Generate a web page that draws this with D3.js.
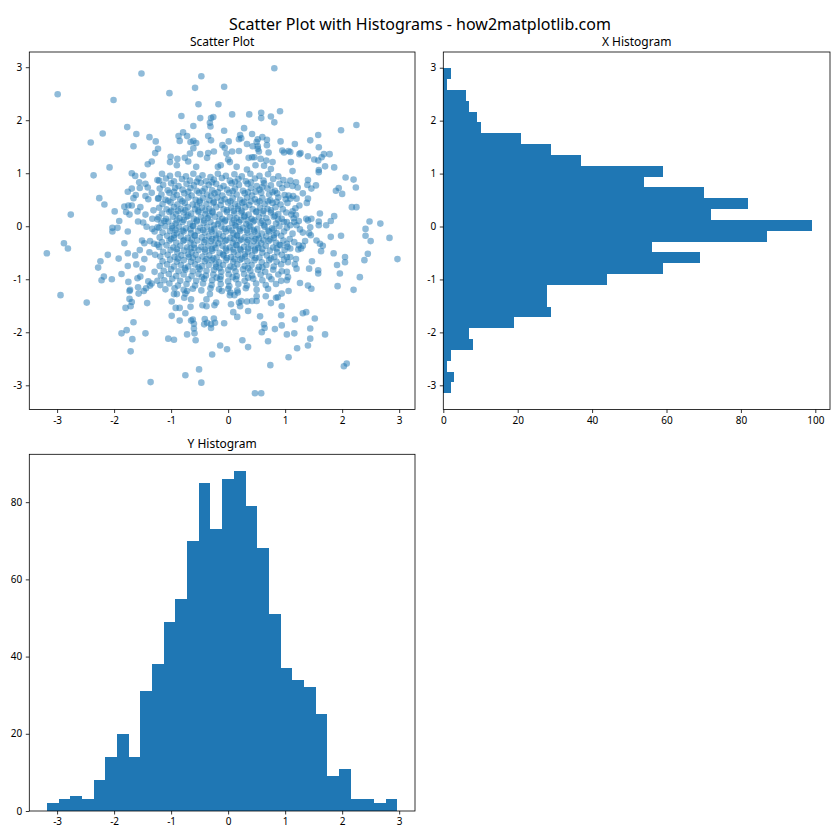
<!DOCTYPE html>
<html lang="en">
<head>
<meta charset="UTF-8">
<title>Scatter Plot with Histograms</title>
<script src="https://d3js.org/d3.v7.min.js"></script>
<style>
  body { margin: 0; background: #fff; }
  text { font-family: "Noto Sans", "DejaVu Sans", sans-serif; fill: #000; }
</style>
</head>
<body>
<script>
// scatter points [x, y]
var scatterPoints = [
  // upper left
  [-2.99,2.49],[-1.52,2.88],[-2.01,2.38],[-1.77,1.87],[-2.20,1.75],[-2.41,1.58],[-1.61,1.74],[-1.38,1.68],
  [-1.27,1.60],[-1.66,1.51],[-1.23,1.46],[-1.28,1.38],[-1.34,1.22],[-1.41,1.17],[-2.08,1.11],
  // upper middle
  [0.81,2.98],[-0.47,2.83],[-0.58,2.61],[-0.07,2.63],[-1.03,2.51],[-0.52,2.30],[-0.17,2.30],[0.91,2.17],
  [-0.82,2.08],[-0.49,2.04],[-0.30,2.04],[-0.26,2.06],[0.07,2.11],[0.37,2.11],[0.58,2.14],[0.58,2.04],
  [0.75,2.07],[0.81,1.96],[-0.32,1.95],[-0.61,1.89],[-0.31,1.88],[-0.07,1.80],[0.28,1.85],[-0.79,1.77],
  [-0.87,1.70],[-0.72,1.70],[-0.35,1.70],[0.21,1.72],[0.23,1.66],[0.42,1.74],[0.60,1.68],[-0.85,1.61],
  [-0.66,1.59],[-0.61,1.61],[-0.56,1.57],[-0.30,1.62],[0.01,1.60],[0.19,1.64],[0.33,1.55],[0.52,1.64],
  [0.50,1.59],[0.43,1.51],[0.52,1.51],[0.68,1.63],[0.68,1.53],[0.92,1.60],[-0.10,1.53],[-0.06,1.48],
  [-0.61,1.47],[-1.01,1.31],[-1.02,1.21],[-0.89,1.27],[-0.76,1.29],[-0.70,1.22],[-0.67,1.37],[-0.49,1.36],
  [-0.35,1.38],[-0.37,1.29],[-0.25,1.41],[-0.03,1.37],[0.00,1.26],[0.03,1.21],[0.07,1.41],[0.19,1.42],
  [0.36,1.29],[0.42,1.30],[0.46,1.30],[0.54,1.41],[0.52,1.46],[0.71,1.39],[0.57,1.27],[0.67,1.24],
  [0.78,1.21],[0.95,1.43],[0.98,1.39],[-0.90,1.15],[-0.56,1.12],[-0.18,1.12],[-0.13,1.15],[0.15,1.12],
  [0.33,1.07],[0.48,1.15],[0.63,1.14],[0.75,1.08],
  // upper right
  [2.25,1.91],[1.98,1.81],[1.58,1.72],[1.44,1.62],[1.17,1.55],[1.06,1.42],[1.09,1.40],[1.59,1.49],
  [1.25,1.36],[1.27,1.38],[1.40,1.32],[1.51,1.26],[1.58,1.24],[1.64,1.30],[1.68,1.36],[1.78,1.36],
  [1.10,1.21],[1.70,1.13],[1.86,1.11],[1.59,1.06],[1.13,1.04],
  // middle left
  [-2.36,0.96],[-1.69,1.00],[-1.63,0.95],[-1.49,0.96],[-1.56,0.83],[-1.45,0.80],[-1.41,0.73],[-1.24,0.87],
  [-1.76,0.65],[-1.69,0.71],[-1.55,0.72],[-1.62,0.59],[-1.66,0.53],[-1.45,0.57],[-1.40,0.51],[-1.34,0.63],
  [-1.23,0.52],[-2.26,0.53],[-2.17,0.41],[-1.82,0.37],[-1.75,0.39],[-1.69,0.39],[-1.54,0.36],[-1.79,0.27],
  [-1.73,0.22],[-1.59,0.28],[-1.45,0.22],[-1.31,0.30],[-2.76,0.22],[-1.99,0.28],[-1.91,0.10],[-1.58,0.09],
  [-1.49,0.07],[-1.33,0.14],[-1.24,0.13],[-2.03,-0.03],[-1.94,-0.03],[-2.03,-0.10],[-1.76,-0.10],[-1.43,-0.01],
  [-1.33,-0.05],[-1.29,-0.10],[-1.24,-0.02],[-1.51,-0.27],[-1.47,-0.32],[-1.37,-0.28],[-1.30,-0.33],[-1.24,-0.35],
  [-1.82,-0.32],[-2.88,-0.32],[-2.81,-0.42],[-3.18,-0.51],[-1.55,-0.45],[-1.76,-0.51],[-1.63,-0.55],[-1.38,-0.49],
  [-1.28,-0.54],[-2.11,-0.54],[-2.24,-0.66],[-1.92,-0.61],[-1.61,-0.72],[-1.47,-0.62],[-1.76,-0.75],[-2.28,-0.78],
  [-1.50,-0.80],[-1.29,-0.86],[-1.87,-0.90],[-2.18,-0.95],[-2.22,-1.02],[-2.04,-1.00],[-1.54,-0.95],[-1.59,-0.98],
  [-1.75,-1.05],[-1.40,-1.04],[-1.34,-1.08],[-1.24,-1.03],[-1.72,-1.20],[-1.58,-1.15],[-1.44,-1.17],[-1.37,-1.12],
  // middle right
  [2.06,0.92],[2.20,0.88],[2.24,0.73],[1.59,1.02],[1.40,0.87],[1.39,0.78],[1.46,0.71],[1.54,0.77],
  [1.89,0.67],[1.94,0.72],[2.00,0.61],[1.09,0.86],[1.13,0.76],[1.19,0.83],[1.22,0.73],[1.31,0.62],
  [1.14,0.57],[1.09,0.52],[1.06,0.58],[1.20,0.52],[1.25,0.39],[1.40,0.52],[1.38,0.44],[2.17,0.36],
  [2.25,0.36],[1.61,0.24],[1.86,0.19],[1.80,0.10],[2.48,0.09],[2.67,0.05],[1.13,0.28],[1.18,0.34],
  [1.11,0.22],[1.19,0.21],[1.15,0.15],[1.24,0.10],[1.16,0.08],[1.09,0.02],[1.03,0.08],[1.20,0.02],
  [1.26,-0.06],[1.31,-0.12],[1.13,-0.14],[1.08,-0.24],[1.16,-0.30],[1.24,-0.36],[1.09,-0.42],[1.03,-0.33],
  [1.37,0.14],[1.40,0.11],[1.46,0.14],[1.59,0.09],[1.59,0.02],[1.72,0.02],[1.44,-0.02],[1.42,-0.13],
  [1.45,-0.17],[1.35,-0.28],[1.31,-0.37],[1.23,-0.44],[1.28,-0.42],[1.55,-0.27],[1.61,-0.33],[1.66,-0.37],
  [1.63,-0.47],[1.80,-0.20],[1.98,-0.18],[2.41,-0.05],[2.41,-0.18],[2.50,-0.28],[2.83,-0.22],[1.85,-0.51],
  [2.45,-0.52],[2.05,-0.58],[2.05,-0.68],[2.39,-0.64],[2.97,-0.62],[1.91,-0.73],[1.47,-0.66],[1.03,-0.58],
  [1.05,-0.68],[1.09,-0.58],[1.19,-0.62],[1.20,-0.80],[1.17,-0.72],[1.03,-0.86],[1.05,-0.96],[1.03,-1.02],
  [1.42,-0.80],[1.58,-0.83],[1.58,-0.89],[1.96,-0.89],[2.31,-0.96],[1.26,-1.07],[1.40,-1.12],[1.46,-1.18],
  [1.92,-1.13],[2.20,-1.20],
  // lower right
  [1.06,-1.22],[1.31,-1.64],[1.37,-1.62],[1.17,-1.76],[1.52,-1.74],[1.44,-1.93],[1.03,-2.04],[1.16,-2.02],
  [1.70,-2.04],[1.44,-2.12],[1.40,-2.25],[1.21,-2.30],[1.06,-2.47],[2.03,-2.64],[2.08,-2.59],
  // lower middle
  [-0.95,-1.28],[-0.90,-1.28],[-0.75,-1.27],[-0.72,-1.22],[-0.99,-1.42],[-0.77,-1.35],[-0.65,-1.38],[-0.92,-1.54],
  [-0.85,-1.54],[-0.66,-1.52],[-0.99,-1.69],[-0.75,-1.64],[-0.85,-1.78],[-0.32,-1.28],[-0.38,-1.38],[-0.45,-1.49],
  [-0.38,-1.51],[-0.21,-1.44],[-0.24,-1.49],[-0.11,-1.22],[0.04,-1.25],[0.17,-1.25],[0.11,-1.30],[0.03,-1.30],
  [0.05,-1.47],[0.19,-1.44],[0.21,-1.51],[0.23,-1.41],[0.33,-1.42],[0.42,-1.41],[0.50,-1.41],[0.50,-1.32],
  [0.66,-1.32],[0.75,-1.45],[0.84,-1.35],[0.87,-1.34],[0.94,-1.27],[0.94,-1.51],[0.09,-1.62],[0.35,-1.60],
  [0.16,-1.71],[-0.62,-1.76],[-0.60,-1.84],[-0.65,-1.78],[-0.41,-1.75],[-0.42,-1.85],[-0.37,-1.82],[-0.30,-1.85],
  [-0.30,-1.92],[-0.25,-1.74],[-0.23,-1.82],[-0.07,-1.83],[0.56,-1.70],[0.63,-1.85],[0.64,-1.92],[0.59,-2.00],
  [0.82,-1.94],[0.93,-1.68],[0.94,-1.87],[-0.60,-1.93],[-0.72,-2.04],[-0.59,-2.02],[-0.57,-2.15],[-1.05,-2.12],
  [-0.95,-2.14],[0.25,-2.15],[0.70,-2.17],[-0.14,-2.25],[-0.02,-2.32],[0.35,-2.28],[-0.28,-2.42],[0.74,-2.62],
  [-0.51,-2.70],[-0.75,-2.81],[-0.47,-2.95],[0.47,-3.15],[0.58,-3.15],
  // lower left
  [-2.94,-1.30],[-2.48,-1.44],[-1.73,-1.22],[-1.57,-1.27],[-1.48,-1.22],[-1.73,-1.37],[-1.69,-1.43],[-1.71,-1.51],
  [-1.80,-1.54],[-1.42,-1.45],[-1.66,-1.81],[-1.78,-1.96],[-1.87,-2.02],[-1.45,-2.02],[-1.68,-2.13],[-1.71,-2.36],
  [-1.36,-2.94],
  // dense centre
  [-1.16,0.99],[-1.02,0.95],[-0.88,0.98],[-0.74,0.94],[-0.61,0.99],[-0.45,0.96],[-0.31,0.93],[-0.18,0.99],
  [-0.04,0.95],[0.11,0.98],[0.24,0.94],[0.39,0.99],[0.55,0.95],[0.70,0.98],[0.88,0.94],
  [-1.21,0.86],[-1.09,0.90],[-0.95,0.85],[-0.81,0.89],[-0.67,0.86],[-0.52,0.90],[-0.39,0.85],[-0.25,0.88],
  [-0.11,0.91],[0.03,0.86],[0.18,0.89],[0.31,0.85],[0.47,0.90],[0.62,0.86],[0.79,0.89],[0.97,0.87],
  [-0.55,0.84],[-0.28,0.83],[0.12,0.84],[0.40,0.83],
  [-1.14,0.78],[-1.00,0.81],[-0.87,0.76],[-0.73,0.80],[-0.60,0.77],[-0.48,0.82],[-0.34,0.78],[-0.21,0.80],
  [-0.08,0.76],[0.06,0.81],[0.19,0.78],[0.34,0.80],[0.50,0.76],[0.63,0.81],[0.75,0.77],[0.90,0.80],[1.03,0.78],
  [-1.20,0.71],[-1.06,0.68],[-0.93,0.72],[-0.80,0.69],[-0.66,0.72],[-0.55,0.67],[-0.41,0.71],[-0.28,0.68],
  [-0.14,0.72],[-0.02,0.69],[0.12,0.71],[0.26,0.67],[0.40,0.72],[0.55,0.69],[0.69,0.71],[0.82,0.67],[0.95,0.72],[0.60,0.74],
  [-0.70,0.65],[-0.45,0.66],[-0.18,0.64],[0.08,0.66],[0.48,0.65],[0.78,0.64],[-0.95,0.65],
  [-1.17,0.60],[-1.03,0.63],[-0.90,0.59],[-0.77,0.62],[-0.64,0.58],[-0.51,0.63],[-0.37,0.60],[-0.24,0.62],
  [-0.10,0.58],[0.02,0.63],[0.15,0.60],[0.29,0.62],[0.42,0.58],[0.58,0.63],[0.72,0.60],[0.86,0.62],[0.99,0.59],
  [-0.30,0.57],[0.35,0.64],
  [-1.22,0.53],[-1.10,0.50],[-0.96,0.54],[-0.84,0.51],[-0.70,0.54],[-0.57,0.50],[-0.44,0.53],[-0.33,0.49],
  [-0.19,0.54],[-0.06,0.51],[0.08,0.53],[0.21,0.50],[0.33,0.54],[0.47,0.51],[0.60,0.53],[0.74,0.49],[0.88,0.54],
  [1.01,0.51],[-0.12,0.48],[0.40,0.47],
  [-0.80,0.47],[-0.50,0.48],[-0.25,0.46],[0.04,0.47],[0.28,0.46],[0.55,0.47],[0.85,0.46],[-1.05,0.48],
  [-1.15,0.42],[-1.01,0.45],[-0.89,0.41],[-0.76,0.44],[-0.62,0.41],[-0.50,0.45],[-0.38,0.42],[-0.26,0.44],
  [-0.13,0.40],[0.00,0.45],[0.12,0.42],[0.25,0.44],[0.37,0.40],[0.51,0.45],[0.64,0.42],[0.78,0.44],[0.92,0.41],
  [1.04,0.44],[-0.55,0.39],[0.18,0.38],[0.70,0.47],
  [-1.21,0.35],[-1.08,0.32],[-0.95,0.36],[-0.83,0.33],[-0.71,0.36],[-0.58,0.32],[-0.46,0.35],[-0.33,0.33],
  [-0.21,0.36],[-0.08,0.32],[0.05,0.35],[0.17,0.33],[0.30,0.36],[0.43,0.32],[0.56,0.35],[0.69,0.33],[0.83,0.36],
  [0.96,0.32],[-0.40,0.30],[0.10,0.29],[0.62,0.29],[-0.88,0.29],
  [-0.75,0.30],[-0.52,0.29],[-0.28,0.28],[-0.02,0.30],[0.24,0.29],[0.50,0.28],[0.75,0.30],[-1.00,0.29],
  [-1.16,0.24],[-1.03,0.27],[-0.91,0.23],[-0.78,0.26],[-0.65,0.24],[-0.52,0.27],[-0.40,0.23],[-0.27,0.26],
  [-0.15,0.22],[-0.02,0.27],[0.11,0.24],[0.23,0.26],[0.36,0.22],[0.49,0.27],[0.61,0.24],[0.75,0.26],[0.88,0.23],
  [1.02,0.26],[-0.33,0.20],[0.29,0.20],[0.82,0.20],[-0.70,0.20],
  [-1.22,0.17],[-1.09,0.14],[-0.97,0.18],[-0.85,0.15],[-0.73,0.18],[-0.60,0.14],[-0.48,0.17],[-0.36,0.15],
  [-0.23,0.18],[-0.10,0.14],[0.03,0.17],[0.15,0.15],[0.28,0.18],[0.41,0.14],[0.54,0.17],[0.67,0.15],[0.80,0.18],
  [0.94,0.14],[-0.55,0.11],[-0.05,0.11],[0.46,0.11],[0.22,0.12],[-0.90,0.11],
  [-0.78,0.12],[-0.42,0.11],[-0.16,0.10],[0.10,0.12],[0.34,0.11],[0.60,0.10],[0.88,0.12],[-1.12,0.10],
  [-1.17,0.06],[-1.05,0.09],[-0.92,0.05],[-0.80,0.08],[-0.67,0.05],[-0.55,0.09],[-0.43,0.06],[-0.31,0.08],
  [-0.18,0.04],[-0.06,0.09],[0.07,0.06],[0.19,0.08],[0.32,0.04],[0.44,0.09],[0.57,0.06],[0.70,0.08],[0.84,0.05],
  [0.98,0.08],[-0.25,0.02],[0.12,0.02],[0.37,0.01],[-0.62,0.01],[0.63,0.02],[-0.98,0.01],
  [-1.21,-0.03],[-1.10,0.00],[-0.98,-0.04],[-0.86,-0.01],[-0.74,-0.04],[-0.61,0.00],[-0.49,-0.03],[-0.37,-0.01],
  [-0.24,-0.05],[-0.12,-0.01],[0.01,-0.04],[0.14,0.00],[0.26,-0.03],[0.39,-0.01],[0.51,-0.05],[0.64,-0.01],
  [0.77,-0.04],[0.90,0.00],[1.03,-0.03],[-0.44,-0.07],[0.06,-0.08],[0.33,-0.08],[-0.80,-0.08],[0.70,-0.08],
  [-0.92,-0.07],[-0.66,-0.06],[-0.30,-0.07],[-0.06,-0.05],[0.20,-0.06],[0.45,-0.07],[0.80,-0.06],
  [-1.15,-0.12],[-1.02,-0.09],[-0.90,-0.13],[-0.78,-0.10],[-0.65,-0.13],[-0.53,-0.09],[-0.41,-0.12],[-0.29,-0.10],
  [-0.16,-0.14],[-0.04,-0.10],[0.09,-0.13],[0.21,-0.09],[0.34,-0.12],[0.46,-0.10],[0.59,-0.14],[0.72,-0.10],
  [0.85,-0.13],[0.98,-0.10],[-0.22,-0.17],[0.15,-0.17],[0.52,-0.17],[-0.59,-0.17],[-0.95,-0.17],[0.80,-0.17],
  [-1.20,-0.21],[-1.07,-0.18],[-0.95,-0.22],[-0.83,-0.19],[-0.71,-0.22],[-0.58,-0.18],[-0.46,-0.21],[-0.34,-0.19],
  [-0.21,-0.23],[-0.09,-0.19],[0.04,-0.22],[0.16,-0.18],[0.29,-0.21],[0.41,-0.19],[0.54,-0.23],[0.67,-0.19],
  [0.80,-0.22],[0.93,-0.18],[-0.40,-0.26],[-0.03,-0.26],[0.35,-0.26],[0.62,-0.26],[-0.77,-0.26],
  [-1.00,-0.24],[-0.64,-0.25],[-0.28,-0.24],[-0.14,-0.25],[0.10,-0.24],[0.23,-0.25],[0.48,-0.24],[0.74,-0.25],
  [-1.16,-0.30],[-1.03,-0.27],[-0.91,-0.31],[-0.79,-0.28],[-0.66,-0.31],[-0.54,-0.27],[-0.42,-0.30],[-0.30,-0.28],
  [-0.17,-0.32],[-0.05,-0.28],[0.08,-0.31],[0.20,-0.27],[0.33,-0.30],[0.45,-0.28],[0.58,-0.32],[0.71,-0.28],
  [0.84,-0.31],[0.97,-0.27],[-0.60,-0.35],[-0.24,-0.35],[0.14,-0.35],[0.51,-0.35],[0.90,-0.35],
  [-1.21,-0.39],[-1.08,-0.36],[-0.96,-0.40],[-0.84,-0.37],[-0.72,-0.40],[-0.59,-0.41],[-0.47,-0.39],[-0.35,-0.37],
  [-0.22,-0.41],[-0.10,-0.37],[0.03,-0.40],[0.15,-0.36],[0.28,-0.39],[0.40,-0.37],[0.53,-0.41],[0.66,-0.37],
  [0.79,-0.40],[0.92,-0.36],[1.04,-0.39],[-0.41,-0.44],[0.09,-0.44],[0.47,-0.44],
  [-0.90,-0.43],[-0.66,-0.42],[-0.29,-0.43],[-0.04,-0.42],[0.21,-0.43],[0.35,-0.42],[0.60,-0.43],[0.85,-0.42],
  [-1.14,-0.48],[-1.01,-0.45],[-0.89,-0.49],[-0.77,-0.46],[-0.64,-0.49],[-0.52,-0.45],[-0.40,-0.48],[-0.28,-0.46],
  [-0.15,-0.50],[-0.03,-0.46],[0.10,-0.49],[0.22,-0.45],[0.35,-0.48],[0.47,-0.46],[0.60,-0.50],[0.73,-0.46],
  [0.86,-0.49],[0.99,-0.45],[-0.70,-0.53],[-0.09,-0.53],[0.29,-0.53],
  [-1.19,-0.57],[-1.06,-0.54],[-0.94,-0.58],[-0.82,-0.55],[-0.69,-0.58],[-0.57,-0.54],[-0.45,-0.57],[-0.33,-0.55],
  [-0.20,-0.59],[-0.08,-0.55],[0.05,-0.58],[0.17,-0.54],[0.30,-0.57],[0.42,-0.55],[0.55,-0.59],[0.68,-0.55],
  [0.81,-0.58],[0.94,-0.54],[-0.38,-0.62],[0.11,-0.62],
  [-0.88,-0.61],[-0.62,-0.60],[-0.26,-0.61],[-0.02,-0.60],[0.24,-0.61],[0.48,-0.60],[0.75,-0.61],
  [-1.15,-0.66],[-1.02,-0.63],[-0.90,-0.67],[-0.78,-0.64],[-0.65,-0.67],[-0.53,-0.63],[-0.41,-0.66],[-0.29,-0.64],
  [-0.16,-0.68],[-0.04,-0.64],[0.09,-0.67],[0.21,-0.63],[0.34,-0.66],[0.46,-0.64],[0.59,-0.68],[0.72,-0.64],
  [0.85,-0.67],[0.98,-0.63],[-0.22,-0.71],
  [-1.20,-0.75],[-1.07,-0.72],[-0.95,-0.76],[-0.83,-0.73],[-0.70,-0.76],[-0.58,-0.72],[-0.46,-0.75],[-0.34,-0.73],
  [-0.21,-0.77],[-0.09,-0.73],[0.04,-0.76],[0.16,-0.72],[0.29,-0.75],[0.41,-0.73],[0.54,-0.77],[0.67,-0.73],
  [0.80,-0.76],[0.93,-0.72],
  [-0.76,-0.79],[-0.52,-0.78],[-0.15,-0.79],[0.10,-0.78],[0.35,-0.79],[0.60,-0.78],
  [-1.13,-0.84],[-1.00,-0.81],[-0.87,-0.85],[-0.75,-0.82],[-0.62,-0.85],[-0.50,-0.81],[-0.38,-0.84],[-0.25,-0.82],
  [-0.12,-0.86],[0.00,-0.82],[0.13,-0.85],[0.26,-0.81],[0.39,-0.84],[0.52,-0.82],[0.65,-0.86],[0.79,-0.82],[0.94,-0.85],
  [-1.18,-0.93],[-1.04,-0.90],[-0.91,-0.94],[-0.78,-0.91],[-0.64,-0.94],[-0.52,-0.90],[-0.39,-0.93],[-0.26,-0.91],
  [-0.13,-0.95],[0.01,-0.91],[0.15,-0.94],[0.28,-0.90],[0.42,-0.93],[0.57,-0.91],[0.72,-0.95],[0.88,-0.91],
  [-0.46,-0.96],[-0.20,-0.97],[0.08,-0.96],[0.35,-0.97],
  [-1.12,-1.02],[-0.98,-0.99],[-0.84,-1.03],[-0.70,-1.00],[-0.56,-1.03],[-0.42,-0.99],[-0.28,-1.02],[-0.14,-1.00],
  [0.00,-1.04],[0.14,-1.00],[0.29,-1.03],[0.44,-0.99],[0.60,-1.02],[0.76,-1.00],[0.93,-1.03],
  [-1.19,-1.11],[-1.03,-1.08],[-0.88,-1.12],[-0.73,-1.09],[-0.58,-1.12],[-0.44,-1.08],[-0.29,-1.11],[-0.13,-1.09],
  [0.02,-1.13],[0.18,-1.09],[0.33,-1.12],[0.49,-1.08],[0.66,-1.11],[0.84,-1.09],
  [-1.10,-1.19],[-0.94,-1.17],[-0.78,-1.20],[-0.62,-1.18],[-0.47,-1.21],[-0.31,-1.17],[-0.16,-1.19],[0.00,-1.18],
  [0.16,-1.21],[0.31,-1.17],[0.50,-1.20],[0.70,-1.18]
];

// right panel ("X Histogram"), horizontal bars, counts from the lowest bin up
var xHistCounts = [2,3,1,2,8,7,19,29,28,28,44,59,69,56,87,99,72,82,70,54,59,37,29,21,10,9,7,6,1,2];
var xHistRange = [-3.15, 2.99];
// bottom panel ("Y Histogram"), counts from the leftmost bin
var yHistCounts = [2,3,4,3,8,14,20,14,31,38,49,55,70,85,73,86,88,79,68,51,37,34,32,25,9,11,3,3,2,3];
var yHistRange = [-3.18, 2.97];

var valueTicks = [-3,-2,-1,0,1,2,3];
var xCountTicks = [0,20,40,60,80,100];
var yCountTicks = [0,20,40,60,80];

var blue = '#1f77b4';
var width = 840, height = 840;

var svg = d3.select('body').append('svg').attr('width', width).attr('height', height);

// bins: equal width between the range ends, like matplotlib
function makeBins(counts, range) {
    var w = (range[1] - range[0]) / counts.length;
    return counts.map(function (c, i) {
        return {x0: range[0] + i * w, x1: range[0] + (i + 1) * w, count: c};
    });
}
function padded(lo, hi) {
    var p = (hi - lo) * 0.05;
    return [lo - p, hi + p];
}
var fmt = function (d) { return String(d); };

function frame(g, w, h) {
    g.append('rect').attr('width', w).attr('height', h)
        .attr('fill', 'none').attr('stroke', '#000').attr('stroke-width', 0.8);
}
function styleAxis(sel) {
    sel.select('.domain').remove();
    sel.selectAll('.tick line').attr('stroke', '#000').attr('stroke-width', 0.8);
    sel.selectAll('.tick text').style('font-size', '10px').attr('fill', '#000');
}
function title(txt, cx, y) {
    svg.append('text').attr('x', cx).attr('y', y).attr('text-anchor', 'middle')
        .style('font-size', '12px').text(txt);
}

svg.append('text').attr('x', width / 2).attr('y', 30).attr('text-anchor', 'middle')
    .style('font-size', '16px').text('Scatter Plot with Histograms - how2matplotlib.com');

// ---- scatter ----
var sp = {l: 29.3, t: 52, w: 385.7, h: 357.5};
var xs = d3.scaleLinear().domain(padded(d3.min(scatterPoints, function (d) { return d[0]; }),
        d3.max(scatterPoints, function (d) { return d[0]; }))).range([0, sp.w]);
var ys = d3.scaleLinear().domain(padded(d3.min(scatterPoints, function (d) { return d[1]; }),
        d3.max(scatterPoints, function (d) { return d[1]; }))).range([sp.h, 0]);
var g1 = svg.append('g').attr('transform', 'translate(' + sp.l + ',' + sp.t + ')');
g1.selectAll('circle').data(scatterPoints).join('circle')
    .attr('cx', function (d) { return xs(d[0]); })
    .attr('cy', function (d) { return ys(d[1]); })
    .attr('r', 3.3)
    .attr('fill', blue)
    .attr('fill-opacity', 0.5);
g1.append('g').attr('transform', 'translate(0,' + sp.h + ')')
    .call(d3.axisBottom(xs).tickValues(valueTicks).tickFormat(fmt).tickSize(3.5).tickPadding(3.5)).call(styleAxis);
g1.append('g')
    .call(d3.axisLeft(ys).tickValues(valueTicks).tickFormat(fmt).tickSize(3.5).tickPadding(3.5)).call(styleAxis);
frame(g1, sp.w, sp.h);
title('Scatter Plot', sp.l + sp.w / 2, 46);

// ---- X histogram (horizontal) ----
var hp = {l: 443.3, t: 52, w: 386.7, h: 357.5};
var xBins = makeBins(xHistCounts, xHistRange);
var hx = d3.scaleLinear().domain([0, d3.max(xHistCounts) * 1.05]).range([0, hp.w]);
var hy = d3.scaleLinear().domain(padded(xHistRange[0], xHistRange[1])).range([hp.h, 0]);
var g2 = svg.append('g').attr('transform', 'translate(' + hp.l + ',' + hp.t + ')');
g2.selectAll('rect.bar').data(xBins).join('rect').attr('class', 'bar')
    .attr('x', hx(0))
    .attr('y', function (d) { return hy(d.x1); })
    .attr('width', function (d) { return hx(d.count) - hx(0); })
    .attr('height', function (d) { return hy(d.x0) - hy(d.x1); })
    .attr('fill', blue).attr('shape-rendering', 'crispEdges');
g2.append('g').attr('transform', 'translate(0,' + hp.h + ')')
    .call(d3.axisBottom(hx).tickValues(xCountTicks).tickFormat(fmt).tickSize(3.5).tickPadding(3.5)).call(styleAxis);
g2.append('g')
    .call(d3.axisLeft(hy).tickValues(valueTicks).tickFormat(fmt).tickSize(3.5).tickPadding(3.5)).call(styleAxis);
frame(g2, hp.w, hp.h);
title('X Histogram', hp.l + hp.w / 2, 46);

// ---- Y histogram (vertical) ----
var vp = {l: 29.3, t: 454.3, w: 385.7, h: 356.7};
var yBins = makeBins(yHistCounts, yHistRange);
var vx = d3.scaleLinear().domain(padded(yHistRange[0], yHistRange[1])).range([0, vp.w]);
var vy = d3.scaleLinear().domain([0, d3.max(yHistCounts) * 1.05]).range([vp.h, 0]);
var g3 = svg.append('g').attr('transform', 'translate(' + vp.l + ',' + vp.t + ')');
g3.selectAll('rect.bar').data(yBins).join('rect').attr('class', 'bar')
    .attr('x', function (d) { return vx(d.x0); })
    .attr('y', function (d) { return vy(d.count); })
    .attr('width', function (d) { return vx(d.x1) - vx(d.x0); })
    .attr('height', function (d) { return vy(0) - vy(d.count); })
    .attr('fill', blue).attr('shape-rendering', 'crispEdges');
g3.append('g').attr('transform', 'translate(0,' + vp.h + ')')
    .call(d3.axisBottom(vx).tickValues(valueTicks).tickFormat(fmt).tickSize(3.5).tickPadding(3.5)).call(styleAxis);
g3.append('g')
    .call(d3.axisLeft(vy).tickValues(yCountTicks).tickFormat(fmt).tickSize(3.5).tickPadding(3.5)).call(styleAxis);
frame(g3, vp.w, vp.h);
title('Y Histogram', vp.l + vp.w / 2, 448);
</script>
</body>
</html>
